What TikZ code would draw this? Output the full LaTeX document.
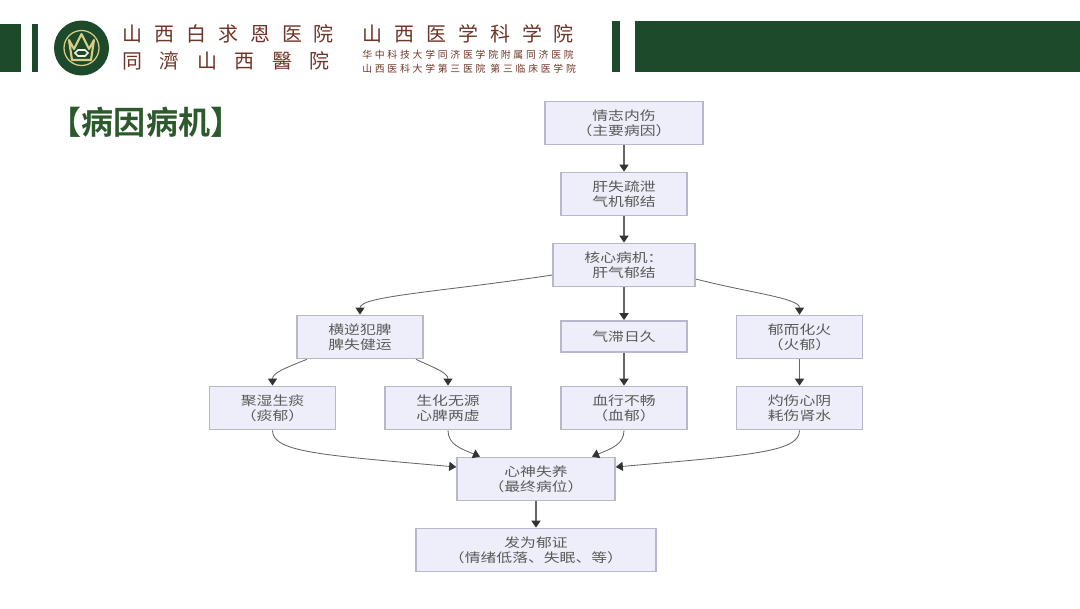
\documentclass[tikz,border=0pt]{standalone}
\usepackage{fontspec}
\usepackage{tikz}
\usetikzlibrary{arrows.meta}
\setmainfont{Noto Sans CJK SC}
\newfontfamily\boxfont[FakeStretch=1.25]{Noto Sans CJK SC}
\newfontfamily\titlefont[BoldFont=*]{Noto Sans CJK SC Bold}
\newfontfamily\headfonta[LetterSpace=60]{Noto Sans CJK SC}
\newfontfamily\headfontb[LetterSpace=88]{Noto Sans CJK SC}
\newfontfamily\headfontc[LetterSpace=28]{Noto Sans CJK SC}
\definecolor{hdgreen}{HTML}{1C4A2A}
\definecolor{titlegreen}{HTML}{2C5A2C}
\definecolor{hdbrown}{HTML}{6E3426}
\definecolor{logogold}{HTML}{D8CC86}
\definecolor{boxfill}{HTML}{EEEEFA}
\definecolor{boxline}{HTML}{B8B8CC}
\definecolor{boxtext}{HTML}{5A5A5A}
\definecolor{arrline}{HTML}{666666}
\definecolor{arrhead}{HTML}{333333}
\tikzset{
    flowbox/.style={draw=boxline, line width=1.1pt, fill=boxfill, text=boxtext, align=center,
        minimum width=3.15cm, minimum height=1.08cm, inner sep=0pt,
        font=\boxfont\fontsize{9}{10.4}\selectfont},
    arr/.style={-{Stealth[length=5pt,width=6.5pt,inset=0pt,color=arrhead]}, draw=arrline, line width=1pt},
    curvearr/.style={arr, line width=0.6pt},
    hdtext/.style={text=hdbrown, anchor=west, inner sep=0pt}
}
\begin{document}
\begin{tikzpicture}[x=0.025cm, y=-0.025cm]
    \useasboundingbox (0,0) rectangle (1080,608);

    % Header bars
    \fill[hdgreen] (0,24) rectangle (21,72);
    \fill[hdgreen] (32,24) rectangle (38,72);
    \fill[hdgreen] (612,21) rectangle (620,72);
    \fill[hdgreen] (635,21) rectangle (1080,72);

    % Logo
    \fill[hdgreen] (81.5,48) circle (27.5);
    \draw[draw=logogold, line width=0.9pt] (81.5,48) circle (17.5);
    \draw[draw=logogold, line width=1.5pt, line join=round] (69,40) -- (74,49) -- (81.5,34) -- (89,49) -- (94,40) -- (91,60) -- (72,60) -- cycle;
    \draw[draw=white!80!logogold, line width=1.2pt] (75,53) -- (78,50) -- (85,50) -- (88,53) -- (85,56) -- (78,56) -- cycle;

    % Header text
    \node[hdtext, font=\headfonta\fontsize{14.2}{14.2}\selectfont] (hospa) at (122,34) {山西白求恩医院};
    \node[hdtext, font=\headfontb\fontsize{14.2}{14.2}\selectfont] (hospb) at (122,61) {同濟山西醫院};
    \node[hdtext, font=\headfonta\fontsize{14.2}{14.2}\selectfont] (hospc) at (362,34) {山西医学科学院};
    \node[hdtext, font=\headfontc\fontsize{7}{7}\selectfont] (hospd) at (362,55) {华中科技大学同济医学院附属同济医院};
    \node[hdtext, font=\headfontc\fontsize{7}{7}\selectfont] (hospe) at (362,69) {山西医科大学第三医院\ 第三临床医学院};

    % Title
    \node[text=titlegreen, font=\titlefont\fontsize{22.8}{22.8}\selectfont, inner sep=0pt] (title) at (146,122) {【病因病机】};

    % Boxes
    \node[flowbox, minimum width=3.95cm] (cause) at (624,123) {情志内伤\\（主要病因）};
    \node[flowbox] (liver) at (624,194) {肝失疏泄\\气机郁结};
    \node[flowbox, minimum width=3.55cm] (core) at (624,265) {核心病机：\\肝气郁结};
    \node[flowbox] (heng) at (360,337) {横逆犯脾\\脾失健运};
    \node[flowbox, minimum height=0.78cm] (stag) at (624,336.5) {气滞日久};
    \node[flowbox] (fire) at (799.5,337) {郁而化火\\（火郁）};
    \node[flowbox] (phlegm) at (272.5,408) {聚湿生痰\\（痰郁）};
    \node[flowbox] (deficit) at (448,408) {生化无源\\心脾两虚};
    \node[flowbox] (blood) at (624,408) {血行不畅\\（血郁）};
    \node[flowbox] (yin) at (799.5,408) {灼伤心阴\\耗伤肾水};
    \node[flowbox, minimum width=3.95cm] (mind) at (536,479) {心神失养\\（最终病位）};
    \node[flowbox, minimum width=6cm] (result) at (536,550) {发为郁证\\（情绪低落、失眠、等）};

    % Straight arrows
    \draw[arr] (cause) -- (liver);
    \draw[arr] (liver) -- (core);
    \draw[arr] (core) -- (stag);
    \draw[arr] (stag) -- (blood);
    \draw[arr] (fire) -- (yin);
    \draw[arr] (mind) -- (result);

    % Curved arrows
    \draw[curvearr] ([yshift=-0.25cm]core.west) .. controls (440,292) and (360,296) .. (heng.north);
    \draw[curvearr] ([yshift=-0.35cm]core.east) .. controls (750,293) and (799.5,298) .. (fire.north);
    \draw[curvearr] ([xshift=-1.33cm]heng.south) .. controls (285,368) and (272.5,373) .. (phlegm.north);
    \draw[curvearr] ([xshift=1.4cm]heng.south) .. controls (435,368) and (448,373) .. (deficit.north);
    \draw[curvearr] (phlegm.south) .. controls (272.5,452) and (320,455) .. ([yshift=0.3cm]mind.west);
    \draw[curvearr] (deficit.south) .. controls (448,445) and (462,449) .. ([xshift=-1.4cm]mind.north);
    \draw[curvearr] (blood.south) .. controls (624,445) and (610,449) .. ([xshift=1.4cm]mind.north);
    \draw[curvearr] (yin.south) .. controls (799.5,452) and (752,455) .. ([yshift=0.3cm]mind.east);
\end{tikzpicture}
\end{document}
